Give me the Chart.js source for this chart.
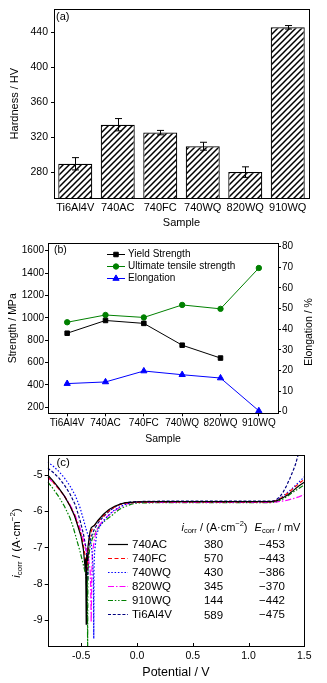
<!DOCTYPE html>
<html>
<head>
<meta charset="utf-8">
<script src="https://cdn.jsdelivr.net/npm/chart.js@4.4.1/dist/chart.umd.min.js"></script>
<style>
html,body{margin:0;padding:0;background:#fff;}
#wrap{position:relative;width:327px;height:683px;background:#fff;overflow:hidden;}
canvas{position:absolute;left:0;}
</style>
</head>
<body>
<div id="wrap">
<canvas id="ca" width="327" height="230" style="top:0px"></canvas>
<canvas id="cb" width="327" height="215" style="top:230px"></canvas>
<canvas id="cc" width="327" height="238" style="top:445px"></canvas>
</div>
<script>
// ---------------- Panel (a) data ----------------
const samplesA = ['Ti6Al4V', '740AC', '740FC', '740WQ', '820WQ', '910WQ'];
const hardness = [290, 334.5, 325.5, 310, 280.5, 445.5];
const hardnessErr = [7, 7, 2.5, 4.5, 6, 2];
const hardnessTicks = [280, 320, 360, 400, 440];

// ---------------- Panel (b) data ----------------
const samplesB = ['Ti6Al4V', '740AC', '740FC', '740WQ', '820WQ', '910WQ'];
const yieldStrength = [862, 976, 950, 755, 640, null];
const utsStrength = [960, 1025, 1003, 1115, 1080, 1445];
const elongation = [13.6, 14.4, 19.7, 17.9, 16.3, 0.4];
const strengthTicks = [200, 400, 600, 800, 1000, 1200, 1400, 1600];
const elongTicks = [0, 10, 20, 30, 40, 50, 60, 70, 80];

// ---------------- Panel (c) data ----------------
const curveNames = ['740AC', '740FC', '740WQ', '820WQ', '910WQ', 'Ti6Al4V'];
const icorrVals = ['380', '570', '430', '345', '144', '589'];
const ecorrVals = ['\u2212453', '\u2212443', '\u2212386', '\u2212370', '\u2212442', '\u2212475'];
const potentialTicks = [-0.5, 0.0, 0.5, 1.0, 1.5];
const logTicks = [-9, -8, -7, -6, -5];

const pot740AC = [-0.80,-0.75,-0.70,-0.65,-0.60,-0.56,-0.53,-0.50,-0.48,-0.465,-0.46,-0.455,-0.452,-0.45,-0.447,-0.44,-0.43,-0.42,-0.41,-0.40,-0.38,-0.35,-0.30,-0.25,-0.20,-0.15,-0.10,-0.05,0.0,0.2,0.4,0.6,0.8,1.0,1.2,1.25,1.30,1.35,1.40,1.45,1.50];
const log740AC = [-5.00,-5.17,-5.36,-5.58,-5.85,-6.12,-6.40,-6.70,-7.05,-7.55,-7.30,-9.10,-7.60,-7.20,-7.35,-7.00,-6.75,-6.55,-6.45,-6.42,-6.38,-6.25,-6.08,-5.95,-5.86,-5.80,-5.76,-5.75,-5.74,-5.73,-5.73,-5.73,-5.73,-5.73,-5.73,-5.71,-5.64,-5.55,-5.43,-5.30,-5.20];

const pot740FC = [-0.80,-0.75,-0.70,-0.65,-0.60,-0.56,-0.53,-0.50,-0.48,-0.465,-0.458,-0.452,-0.448,-0.444,-0.44,-0.435,-0.43,-0.42,-0.41,-0.40,-0.38,-0.35,-0.30,-0.25,-0.20,-0.15,-0.10,-0.05,0.0,0.2,0.4,0.6,0.8,1.0,1.2,1.25,1.30,1.35,1.40,1.45,1.50];
const log740FC = [-5.05,-5.20,-5.38,-5.58,-5.84,-6.10,-6.36,-6.65,-6.95,-7.20,-7.55,-7.25,-7.60,-7.30,-7.10,-6.95,-6.80,-6.65,-6.55,-6.48,-6.38,-6.27,-6.12,-5.98,-5.88,-5.81,-5.77,-5.76,-5.75,-5.74,-5.74,-5.74,-5.74,-5.74,-5.74,-5.70,-5.62,-5.50,-5.37,-5.24,-5.12];

const pot740WQ = [-0.80,-0.75,-0.70,-0.65,-0.60,-0.55,-0.51,-0.48,-0.45,-0.43,-0.41,-0.40,-0.395,-0.39,-0.387,-0.385,-0.38,-0.37,-0.36,-0.34,-0.32,-0.30,-0.27,-0.24,-0.20,-0.15,-0.10,-0.05,0.0,0.2,0.4,0.6,0.8,1.0,1.2,1.25,1.30,1.35,1.40,1.45,1.50];
const log740WQ = [-4.64,-4.76,-4.90,-5.08,-5.30,-5.58,-5.90,-6.22,-6.55,-6.72,-6.90,-7.20,-7.50,-7.90,-9.50,-7.60,-7.10,-6.85,-6.62,-6.45,-6.35,-6.27,-6.16,-6.06,-5.96,-5.87,-5.80,-5.76,-5.74,-5.73,-5.73,-5.73,-5.73,-5.73,-5.73,-5.70,-5.60,-5.48,-5.35,-5.20,-5.05];

const pot820WQ = [-0.80,-0.75,-0.70,-0.65,-0.60,-0.56,-0.53,-0.50,-0.48,-0.46,-0.44,-0.43,-0.42,-0.415,-0.41,-0.405,-0.40,-0.39,-0.38,-0.37,-0.35,-0.33,-0.30,-0.28,-0.25,-0.22,-0.18,-0.15,-0.10,-0.05,0.0,0.2,0.4,0.6,0.8,1.0,1.2,1.25,1.30,1.35,1.40,1.45,1.50];
const log820WQ = [-5.07,-5.21,-5.38,-5.58,-5.82,-6.06,-6.30,-6.55,-6.78,-7.00,-7.20,-7.40,-7.60,-8.00,-9.05,-7.80,-7.20,-6.95,-6.75,-6.60,-6.45,-6.35,-6.24,-6.18,-6.10,-6.02,-5.94,-5.88,-5.80,-5.77,-5.75,-5.75,-5.75,-5.75,-5.75,-5.75,-5.75,-5.74,-5.72,-5.69,-5.65,-5.60,-5.54];

const pot910WQ = [-0.80,-0.75,-0.70,-0.65,-0.60,-0.57,-0.54,-0.51,-0.49,-0.47,-0.455,-0.45,-0.445,-0.442,-0.44,-0.435,-0.43,-0.42,-0.40,-0.38,-0.36,-0.34,-0.31,-0.28,-0.25,-0.22,-0.19,-0.16,-0.13,-0.10,-0.05,0.0,0.2,0.4,0.6,0.8,1.0,1.2,1.25,1.30,1.35,1.40,1.45,1.50];
const log910WQ = [-5.19,-5.38,-5.60,-5.86,-6.18,-6.45,-6.78,-7.10,-7.35,-7.60,-7.80,-8.30,-7.90,-9.90,-7.70,-7.40,-7.20,-6.95,-6.75,-6.60,-6.50,-6.42,-6.32,-6.24,-6.17,-6.10,-6.02,-5.95,-5.90,-5.86,-5.80,-5.77,-5.76,-5.76,-5.76,-5.76,-5.76,-5.76,-5.74,-5.68,-5.58,-5.47,-5.37,-5.27];

const potTi64 = [-0.80,-0.75,-0.70,-0.65,-0.60,-0.55,-0.51,-0.48,-0.46,-0.45,-0.445,-0.44,-0.437,-0.434,-0.43,-0.42,-0.40,-0.38,-0.35,-0.30,-0.25,-0.20,-0.15,-0.10,-0.05,0.0,0.2,0.4,0.6,0.8,1.0,1.2,1.24,1.28,1.31,1.34,1.37,1.40,1.42,1.44,1.46];
const logTi64 = [-4.81,-4.93,-5.08,-5.28,-5.52,-5.84,-6.25,-6.62,-6.95,-7.20,-7.50,-7.90,-7.40,-7.10,-6.95,-6.80,-6.62,-6.48,-6.32,-6.14,-6.00,-5.88,-5.80,-5.76,-5.74,-5.73,-5.72,-5.72,-5.72,-5.72,-5.72,-5.72,-5.70,-5.60,-5.47,-5.30,-5.10,-4.88,-4.72,-4.50,-4.20];

// ---------------- helpers ----------------
const FONT = "'Liberation Sans', Arial, Helvetica, sans-serif";
function f(size, style) { return (style ? style + ' ' : '') + size + 'px ' + FONT; }

function rich(ctx, parts, x, y, rot, align) {
  ctx.save();
  ctx.translate(x, y);
  ctx.rotate(rot || 0);
  ctx.textBaseline = 'middle';
  ctx.textAlign = 'left';
  let w = 0;
  parts.forEach(p => { ctx.font = p.f; p.w = ctx.measureText(p.t).width; w += p.w; });
  let cx = align === 'left' ? 0 : (align === 'right' ? -w : -w / 2);
  parts.forEach(p => { ctx.font = p.f; ctx.fillStyle = '#000'; ctx.fillText(p.t, cx, p.dy || 0); cx += p.w; });
  ctx.restore();
}

const boxPlugin = {
  id: 'box',
  afterDraw(chart) {
    const { ctx, chartArea: a } = chart;
    ctx.save();
    ctx.strokeStyle = '#000';
    ctx.lineWidth = 1;
    ctx.strokeRect(Math.round(a.left) + 0.5, Math.round(a.top) + 0.5,
                   Math.round(a.right) - Math.round(a.left), Math.round(a.bottom) - Math.round(a.top));
    ctx.restore();
  }
};

function hatch() {
  const s = 6;
  const c = document.createElement('canvas');
  c.width = s; c.height = s;
  const x = c.getContext('2d');
  x.fillStyle = '#fff'; x.fillRect(0, 0, s, s);
  x.strokeStyle = '#000'; x.lineWidth = 1.5;
  x.beginPath();
  x.moveTo(-1, s + 1); x.lineTo(s + 1, -1);
  x.moveTo(-1, 1); x.lineTo(1, -1);
  x.moveTo(s - 1, s + 1); x.lineTo(s + 1, s - 1);
  x.stroke();
  return x.createPattern(c, 'repeat');
}

const tickFont = { family: FONT, size: 10.5 };
const baseGrid = { drawOnChartArea: false, tickLength: 3, color: '#000', lineWidth: 1 };
const plainNum = v => String(v);

// ---------------- Panel (a) ----------------
const errPlugin = {
  id: 'err',
  afterDatasetsDraw(chart) {
    const meta = chart.getDatasetMeta(0);
    const ys = chart.scales.y;
    const ctx = chart.ctx;
    ctx.save();
    ctx.strokeStyle = '#000';
    ctx.lineWidth = 1;
    meta.data.forEach((b, i) => {
      const t = ys.getPixelForValue(hardness[i] + hardnessErr[i]);
      const bt = ys.getPixelForValue(hardness[i] - hardnessErr[i]);
      const x = Math.round(b.x) + 0.5;
      ctx.beginPath();
      ctx.moveTo(x, t); ctx.lineTo(x, bt);
      ctx.moveTo(x - 3.5, t); ctx.lineTo(x + 3.5, t);
      ctx.moveTo(x - 3.5, bt); ctx.lineTo(x + 3.5, bt);
      ctx.stroke();
    });
    ctx.restore();
  }
};
const textA = {
  id: 'textA',
  afterDraw(chart) {
    const ctx = chart.ctx;
    rich(ctx, [{ t: '(a)', f: f(11) }], 56, 16.5, 0, 'left');
  }
};

new Chart(document.getElementById('ca'), {
  type: 'bar',
  data: {
    labels: samplesA,
    datasets: [{
      data: hardness,
      backgroundColor: hatch(),
      borderColor: '#000',
      borderWidth: 1.2,
      borderSkipped: false,
      categoryPercentage: 0.8,
      barPercentage: 1.0
    }]
  },
  options: {
    responsive: false, animation: false, devicePixelRatio: 1,
    layout: { padding: { left: 0, top: 4, right: 18, bottom: 0 } },
    plugins: { legend: { display: false }, tooltip: { enabled: false } },
    scales: {
      x: {
        grid: { display: false, drawTicks: false }, border: { display: false },
        ticks: { font: { family: FONT, size: 11 }, color: '#000', padding: 3, maxRotation: 0, autoSkip: false },
        title: { display: true, text: 'Sample', font: { family: FONT, size: 11 }, color: '#000', padding: { top: 0, bottom: 0 } },
        afterFit(s) { s.height = 32; }
      },
      y: {
        min: 251, max: 466,
        afterBuildTicks(s) { s.ticks = hardnessTicks.map(v => ({ value: v })); },
        grid: baseGrid, border: { display: false },
        ticks: { font: tickFont, color: '#000', padding: 3, callback: plainNum },
        title: { display: true, text: 'Hardness / HV', font: { family: FONT, size: 11 }, color: '#000', padding: { top: 8, bottom: 0 } },
        afterFit(s) { s.width = 54; }
      }
    }
  },
  plugins: [boxPlugin, errPlugin, textA]
});

// ---------------- Panel (b) ----------------
const legendB = {
  id: 'legendB',
  afterDraw(chart) {
    const ctx = chart.ctx;
    const rows = [24, 36, 48];
    chart.data.datasets.forEach((ds, i) => {
      const y = rows[i];
      ctx.save();
      ctx.strokeStyle = ds.borderColor; ctx.lineWidth = 1;
      ctx.beginPath(); ctx.moveTo(107, y + 0.5); ctx.lineTo(125, y + 0.5); ctx.stroke();
      ctx.fillStyle = ds.backgroundColor; ctx.strokeStyle = ds.borderColor;
      Chart.helpers.drawPoint(ctx, { pointStyle: ds.pointStyle, radius: ds.pointRadius, borderWidth: 1, rotation: 0 }, 116, y + 0.5);
      ctx.restore();
      rich(ctx, [{ t: ds.label, f: f(10) }], 128, y + 0.5, 0, 'left');
    });
    rich(ctx, [{ t: '(b)', f: f(10.5) }], 54, 20.5, 0, 'left');
    rich(ctx, [{ t: 'Elongation / %', f: f(10.5) }], 309, 102, -Math.PI / 2, 'center');
  }
};

new Chart(document.getElementById('cb'), {
  type: 'line',
  data: {
    labels: samplesB,
    datasets: [
      { label: 'Yield Strength', data: yieldStrength, yAxisID: 'y', borderColor: '#000000', backgroundColor: '#000000',
        pointStyle: 'rect', pointRadius: 3.2, pointBorderWidth: 1, borderWidth: 1, tension: 0 },
      { label: 'Ultimate tensile strength', data: utsStrength, yAxisID: 'y', borderColor: '#008000', backgroundColor: '#008000',
        pointStyle: 'circle', pointRadius: 2.7, pointBorderWidth: 1, borderWidth: 1, tension: 0 },
      { label: 'Elongation', data: elongation, yAxisID: 'y1', borderColor: '#0000ff', backgroundColor: '#0000ff',
        pointStyle: 'triangle', pointRadius: 3.6, pointBorderWidth: 1, borderWidth: 1, tension: 0 }
    ]
  },
  options: {
    responsive: false, animation: false, devicePixelRatio: 1,
    layout: { padding: { left: 0, top: 13.3, right: 0, bottom: 0 } },
    plugins: { legend: { display: false }, tooltip: { enabled: false } },
    scales: {
      x: {
        offset: true,
        grid: { drawOnChartArea: false, tickLength: 3, color: '#000', offset: false }, border: { display: false },
        ticks: { font: { family: FONT, size: 10 }, color: '#000', padding: 1, maxRotation: 0, autoSkip: false },
        title: { display: true, text: 'Sample', font: { family: FONT, size: 10.5 }, color: '#000', padding: { top: 0, bottom: 0 } },
        afterFit(s) { s.height = 31.7; }
      },
      y: {
        position: 'left', min: 146, max: 1666,
        afterBuildTicks(s) { s.ticks = strengthTicks.map(v => ({ value: v })); },
        grid: baseGrid, border: { display: false },
        ticks: { font: { family: FONT, size: 10 }, color: '#000', padding: 1, callback: plainNum },
        title: { display: true, text: 'Strength / MPa', font: { family: FONT, size: 10.5 }, color: '#000', padding: { top: 6.5, bottom: 0 } },
        afterFit(s) { s.width = 48; }
      },
      y1: {
        position: 'right', min: -0.8, max: 81.6,
        afterBuildTicks(s) { s.ticks = elongTicks.map(v => ({ value: v })); },
        grid: baseGrid, border: { display: false },
        ticks: { font: { family: FONT, size: 10 }, color: '#000', padding: 1, callback: plainNum },
        afterFit(s) { s.width = 49; }
      }
    }
  },
  plugins: [boxPlugin, legendB]
});

// ---------------- Panel (c) ----------------
const curveStyles = [
  { color: '#000000', dash: [] },
  { color: '#ff0000', dash: [4, 2.5] },
  { color: '#0000ff', dash: [1.5, 1.8] },
  { color: '#ff00ff', dash: [6, 2, 1.5, 2] },
  { color: '#008000', dash: [5, 1.8, 1.5, 1.8, 1.5, 1.8] },
  { color: '#000080', dash: [3, 1.8] }
];
const potArrays = [pot740AC, pot740FC, pot740WQ, pot820WQ, pot910WQ, potTi64];
const logArrays = [log740AC, log740FC, log740WQ, log820WQ, log910WQ, logTi64];

const textC = {
  id: 'textC',
  afterDraw(chart) {
    const ctx = chart.ctx;
    // inward ticks on the potential axis
    const xs = chart.scales.x, a = chart.chartArea;
    ctx.save();
    ctx.strokeStyle = '#000'; ctx.lineWidth = 1;
    ctx.beginPath();
    xs.ticks.forEach(t => {
      const px = Math.round(xs.getPixelForValue(t.value)) + 0.5;
      ctx.moveTo(px, Math.round(a.bottom)); ctx.lineTo(px, Math.round(a.bottom) - 3);
    });
    ctx.stroke();
    ctx.restore();

    const rows = [99, 113, 127, 141, 155, 169];
    chart.data.datasets.forEach((ds, i) => {
      const y = rows[i];
      ctx.save();
      ctx.strokeStyle = ds.borderColor; ctx.lineWidth = 1.2;
      ctx.setLineDash(ds.borderDash || []);
      ctx.beginPath(); ctx.moveTo(108, y + 0.5); ctx.lineTo(128, y + 0.5); ctx.stroke();
      ctx.restore();
      rich(ctx, [{ t: ds.label, f: f(11.5) }], 132, y + 0.5, 0, 'left');
      rich(ctx, [{ t: icorrVals[i], f: f(11.5) }], 213.5, y + 0.5 + (i === 5 ? 1 : 0), 0, 'center');
      rich(ctx, [{ t: ecorrVals[i], f: f(11.5) }], 272, y + 0.5, 0, 'center');
    });
    // table headers
    rich(ctx, [
      { t: 'i', f: f(11, 'italic') },
      { t: 'corr', f: f(7.5), dy: 3 },
      { t: ' / (A\u00b7cm', f: f(11) },
      { t: '\u22122', f: f(7.5), dy: -4 },
      { t: ')', f: f(11) }
    ], 214.5, 83, 0, 'center');
    rich(ctx, [
      { t: 'E', f: f(11, 'italic') },
      { t: 'corr', f: f(7.5), dy: 3 },
      { t: ' / mV', f: f(11) }
    ], 277.5, 83, 0, 'center');
    // y axis title
    rich(ctx, [
      { t: 'i', f: f(11.5, 'italic') },
      { t: 'corr', f: f(8), dy: 3 },
      { t: ' / (A\u00b7cm', f: f(11.5) },
      { t: '\u22122', f: f(8), dy: -4 },
      { t: ')', f: f(11.5) }
    ], 16.5, 98, -Math.PI / 2, 'center');
    rich(ctx, [{ t: '(c)', f: f(11.5) }], 56.5, 17.5, 0, 'left');
  }
};

new Chart(document.getElementById('cc'), {
  type: 'scatter',
  data: {
    datasets: curveNames.map((name, i) => ({
      label: name,
      data: potArrays[i].map((e, k) => ({ x: e, y: logArrays[i][k] })),
      showLine: true,
      pointRadius: 0,
      borderColor: curveStyles[i].color,
      backgroundColor: curveStyles[i].color,
      borderDash: curveStyles[i].dash,
      borderWidth: 1.2,
      tension: 0
    }))
  },
  options: {
    responsive: false, animation: false, devicePixelRatio: 1,
    layout: { padding: { left: 0, top: 10, right: 22.7, bottom: 0 } },
    plugins: { legend: { display: false }, tooltip: { enabled: false } },
    scales: {
      x: {
        type: 'linear', min: -0.8, max: 1.5,
        afterBuildTicks(s) { s.ticks = potentialTicks.map(v => ({ value: v })); },
        grid: { display: false, drawTicks: false }, border: { display: false },
        ticks: { font: tickFont, color: '#000', padding: 4, callback: v => v.toFixed(1) },
        title: { display: true, text: 'Potential / V', font: { family: FONT, size: 12.5 }, color: '#000', padding: { top: 0, bottom: 3 } },
        afterFit(s) { s.height = 37; }
      },
      y: {
        type: 'linear', min: -9.7, max: -4.45,
        afterBuildTicks(s) { s.ticks = logTicks.map(v => ({ value: v })); },
        grid: baseGrid, border: { display: false },
        ticks: { font: tickFont, color: '#000', padding: 2, callback: v => String(v) },
        afterFit(s) { s.width = 47.7; }
      }
    }
  },
  plugins: [boxPlugin, textC]
});
</script>
</body>
</html>
